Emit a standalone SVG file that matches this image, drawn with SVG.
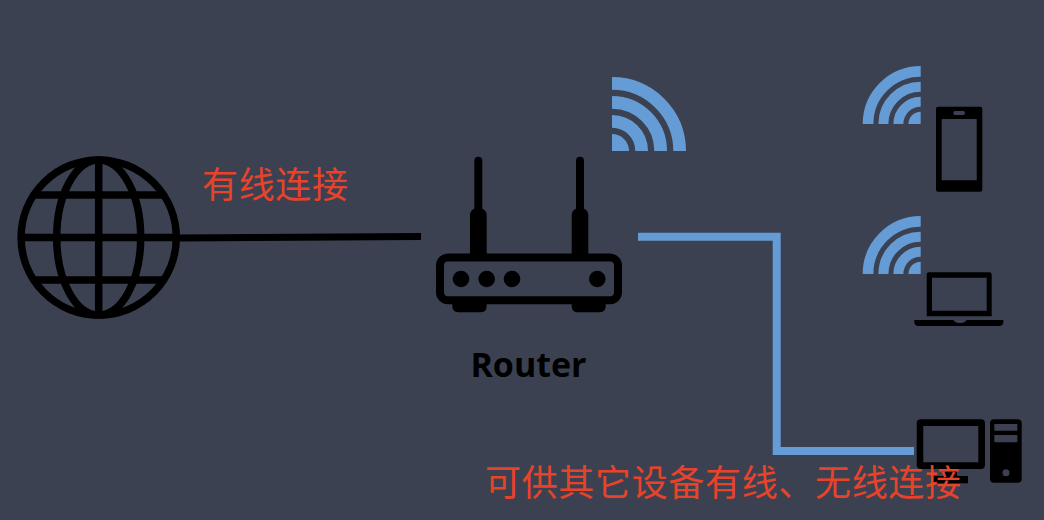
<svg xmlns="http://www.w3.org/2000/svg" xmlns:xlink="http://www.w3.org/1999/xlink" width="1044" height="520" viewBox="0 0 1044 520">
<style>
.k{fill:#000}
.bg{fill:#3b4151}
.ol{fill:none;stroke:#000;stroke-width:7.500}
.wire{fill:none;stroke-linejoin:miter}
.red{font-family:"Noto Sans CJK SC","Liberation Sans",sans-serif;font-size:36px;fill:#e8432a}
.lbl{font-family:"Open Sans","Noto Sans",sans-serif;font-weight:700;font-size:34px;fill:#000}
.wb{fill:none;stroke:#659cd6}
</style>
<defs>
<g id="wifiS">
<path class="wb" stroke-width="10.700" d="M-52.650 0A52.650 52.650 0 0 1 0 -52.650"/>
<path class="wb" stroke-width="10" d="M-37.300 0A37.300 37.300 0 0 1 0 -37.300"/>
<path class="wb" stroke-width="10" d="M-22.300 0A22.300 22.300 0 0 1 0 -22.300"/>
<path fill="#659cd6" d="M-12.300 0A12.300 12.300 0 0 1 0 -12.300V0Z"/>
</g>
</defs>
<rect width="1044" height="520" class="bg"/>
<g id="connectors">
<path class="wire" stroke="#000" stroke-width="7" d="M178 238L421 236.500"/>
<path class="wire" stroke="#659cd6" stroke-width="8" d="M638 236.700H776.700V451H914"/>
</g>
<g id="internet">
<circle class="ol" cx="98.700" cy="237.500" r="77.600"/>
<ellipse class="ol" cx="98.700" cy="237.500" rx="42" ry="77.600"/>
<path class="ol" d="M98.700 160V315M21 237.500H176M35 195H162.400M35 280H162.400"/>
</g>
<g id="router">
<rect class="k" x="474.300" y="156.700" width="8" height="60" rx="4"/>
<rect class="k" x="576" y="156.700" width="8" height="60" rx="4"/>
<path class="k" d="M470 257V216Q470 208 478 208Q486.700 208 486.700 216V257Z"/>
<path class="k" d="M571.700 257V216Q571.700 208 580 208Q588.300 208 588.300 216V257Z"/>
<path class="k" d="M452.300 298V306Q452.300 312.300 459 312.300H480Q486.700 312.300 486.700 306V298Z"/>
<path class="k" d="M571.700 298V306Q571.700 312.300 578 312.300H599Q605.700 312.300 605.700 306V298Z"/>
<rect x="440" y="257.500" width="178" height="42.700" rx="8" style="stroke:#000;stroke-width:8;fill:#3b4151"/>
<circle class="k" cx="461" cy="279" r="8.300"/>
<circle class="k" cx="486.700" cy="279" r="8.300"/>
<circle class="k" cx="512" cy="279" r="8.300"/>
<circle class="k" cx="597.300" cy="279" r="8.300"/>
<text class="lbl" x="528.500" y="376.700" text-anchor="middle">Router</text>
</g>
<g id="router-wifi" fill="none" stroke="#659cd6" stroke-width="12.700">
<path d="M612 83.350A67.650 67.650 0 0 1 679.650 151"/>
<path d="M612 102.350A48.650 48.650 0 0 1 660.650 151"/>
<path d="M612 121.350A29.650 29.650 0 0 1 641.650 151"/>
<path d="M612 134A17 17 0 0 1 629 151H612Z" fill="#659cd6" stroke="none"/>
</g>
<g id="phone">
<use xlink:href="#wifiS" href="#wifiS" x="920.700" y="124"/>
<path class="k" fill-rule="evenodd" d="M938 106.700H980.300Q982.300 106.700 982.300 108.700V189.700Q982.300 191.700 980.300 191.700H938Q936 191.700 936 189.700V108.700Q936 106.700 938 106.700ZM941.700 119V180.300H976.700V119ZM955 111Q953.300 111 953.300 113T955 115H963.300Q965 115 965 113T963.300 111Z"/>
</g>
<g id="laptop">
<use xlink:href="#wifiS" href="#wifiS" x="920.700" y="274"/>
<path class="k" fill-rule="evenodd" d="M929 272.300H989.400Q991.700 272.300 991.700 274.600V316.300H926.700V274.600Q926.700 272.300 929 272.300ZM932 277.700V310.700H986.700V277.700Z"/>
<path class="k" d="M914.300 320H953.300Q955 323 958 323H962Q965 323 966.700 320H1003.300V322Q1003.300 326 999 326H919Q914.300 326 914.300 322Z"/>
</g>
<g id="desktop">
<path class="k" fill-rule="evenodd" d="M921 419.300H981Q985 419.300 985 423.300V465Q985 469 981 469H921Q916.700 469 916.700 465V423.300Q916.700 419.300 921 419.300ZM923.300 426V462.300H978.300V426Z"/>
<rect class="k" x="945" y="468" width="12" height="10"/>
<rect class="k" x="933.300" y="476" width="34.700" height="7.300"/>
<path class="k" fill-rule="evenodd" d="M994 419.300H1017.700Q1021.700 419.300 1021.700 423.300V478.700Q1021.700 482.700 1017.700 482.700H994Q990 482.700 990 478.700V423.300Q990 419.300 994 419.300ZM994.300 424V430.700H1017.300V424ZM994.300 435V442.300H1017.300V435ZM1006 469.200A3.500 3.500 0 1 0 1006 476.200A3.500 3.500 0 1 0 1006 469.200Z"/>
</g>
<text class="red" x="202" y="198" textLength="146">有线连接</text>
<text class="red" x="485" y="496" textLength="476">可供其它设备有线、无线连接</text>
</svg>
